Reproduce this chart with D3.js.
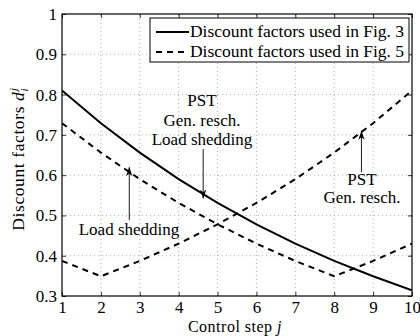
<!DOCTYPE html>
<html><head><meta charset="utf-8">
<script src="https://cdn.jsdelivr.net/npm/d3@7"></script>
<style>body{margin:0;background:#fff}svg{display:block}text{fill:#000}</style>
</head><body>
<script>
const steps = [1,2,3,4,5,6,7,8,9,10];
const fig3 = [0.810,0.729,0.656,0.590,0.531,0.478,0.430,0.387,0.349,0.314];
const fig5LoadShed = [0.729,0.656,0.590,0.531,0.478,0.430,0.387,0.349,0.387,0.430];
const fig5PstGen = [0.387,0.349,0.387,0.430,0.478,0.531,0.590,0.656,0.729,0.810];
const yTicks = [0.3,0.4,0.5,0.6,0.7,0.8,0.9,1];
const xTicks = [1,2,3,4,5,6,7,8,9,10];
const legendLabels = ["Discount factors used in Fig. 3","Discount factors used in Fig. 5"];

const W=420,H=336;
const m={l:62,r:8,t:14,b:40};
const TF="Liberation Serif";
const svg=d3.select("body").append("svg").attr("width",W).attr("height",H);
const x=d3.scaleLinear().domain([1,10]).range([m.l,W-m.r]);
const y=d3.scaleLinear().domain([0.3,1]).range([H-m.b,m.t]);
const fs=17;

// grid
const g=svg.append("g");
g.selectAll(".gx").data(xTicks.slice(1,-1)).join("line")
 .attr("x1",d=>x(d)).attr("x2",d=>x(d)).attr("y1",y(0.3)).attr("y2",y(1))
 .attr("stroke","#999").attr("stroke-width",0.8).attr("stroke-dasharray","1,3");
g.selectAll(".gy").data(yTicks.slice(1,-1)).join("line")
 .attr("y1",d=>y(d)).attr("y2",d=>y(d)).attr("x1",x(1)).attr("x2",x(10))
 .attr("stroke","#999").attr("stroke-width",0.8).attr("stroke-dasharray","1,3");

// axes
const fmt=d=>d===1?"1":d3.format(".1f")(d);
const ax=(sel)=>{sel.select(".domain").remove();sel.attr("font-size",fs).attr("font-family",TF);};
svg.append("g").attr("transform",`translate(0,${y(0.3)})`).call(d3.axisBottom(x).tickValues(xTicks).tickSizeInner(-4).tickSizeOuter(0).tickPadding(5).tickFormat(d3.format("d"))).call(ax);
svg.append("g").attr("transform",`translate(0,${y(1)})`).call(d3.axisTop(x).tickValues(xTicks).tickSizeInner(-4).tickSizeOuter(0).tickFormat("")).call(ax);
svg.append("g").attr("transform",`translate(${x(1)},0)`).call(d3.axisLeft(y).tickValues(yTicks).tickSizeInner(-4).tickSizeOuter(0).tickPadding(5).tickFormat(fmt)).call(ax);
svg.append("g").attr("transform",`translate(${x(10)},0)`).call(d3.axisRight(y).tickValues(yTicks).tickSizeInner(-4).tickSizeOuter(0).tickFormat("")).call(ax);
svg.selectAll(".tick line").attr("stroke","#000").attr("stroke-width",0.8);
svg.append("rect").attr("x",x(1)).attr("y",y(1)).attr("width",x(10)-x(1)).attr("height",y(0.3)-y(1))
 .attr("fill","none").attr("stroke","#000").attr("stroke-width",1.2);

// lines
const line=d3.line().x((d,i)=>x(steps[i])).y(d=>y(d));
svg.append("clipPath").attr("id","clip").append("rect").attr("x",x(1)).attr("y",y(1)).attr("width",x(10)-x(1)).attr("height",y(0.3)-y(1));
const lg=svg.append("g").attr("clip-path","url(#clip)");
lg.append("path").datum(fig3).attr("d",line).attr("fill","none").attr("stroke","#000").attr("stroke-width",2);
[fig5LoadShed,fig5PstGen].forEach(s=>lg.append("path").datum(s).attr("d",line).attr("fill","none").attr("stroke","#000").attr("stroke-width",2).attr("stroke-dasharray","6,5"));

// legend
const L=svg.append("g");
L.append("rect").attr("x",150).attr("y",18).attr("width",259).attr("height",44).attr("fill","#fff").attr("stroke","#000").attr("stroke-width",1);
[0,1].forEach(i=>{
  const yy=32+i*20;
  L.append("line").attr("x1",156).attr("x2",189).attr("y1",yy).attr("y2",yy).attr("stroke","#000").attr("stroke-width",2).attr("stroke-dasharray",i?"6,5":null);
  L.append("text").attr("x",190).attr("y",yy+5).attr("font-family",TF).attr("font-size",17.5)
   .attr("textLength",214).attr("lengthAdjust","spacing").text(legendLabels[i]);
});

// annotations
const defs=svg.append("defs");
defs.append("marker").attr("id","arr").attr("viewBox","0 0 10 10").attr("refX",10).attr("refY",5)
 .attr("markerWidth",9).attr("markerHeight",9).attr("markerUnits","userSpaceOnUse").attr("orient","auto")
 .append("path").attr("d","M0,1.5 L10,5 L0,8.5 L3,5 Z").attr("fill","#000");
function arrow(x1,y1,x2,y2){svg.append("line").attr("x1",x1).attr("y1",y1).attr("x2",x2).attr("y2",y2).attr("stroke","#000").attr("stroke-width",0.9).attr("marker-end","url(#arr)");}
function label(cx,lines,y0,dy){lines.forEach((t,i)=>svg.append("text").attr("x",cx).attr("y",y0+i*dy).attr("text-anchor","middle").attr("font-family",TF).attr("font-size",fs).text(t));}
label(202,["PST","Gen. resch.","Load shedding"],106,19.5);
arrow(x(4.63),149,x(4.63),y(0.542));
label(362,["PST","Gen. resch."],185,18);
arrow(x(8.7),172,x(8.7),y(0.71));
label(129,["Load shedding"],235,0);
arrow(x(2.73),220,x(2.73),y(0.62));

// axis labels
svg.append("text").attr("x",235).attr("y",332).attr("text-anchor","middle").attr("font-family",TF).attr("font-size",16)
 .style("letter-spacing","0.5px")
 .html('Control step <tspan font-style="italic">j</tspan>');
svg.append("text").attr("transform",`translate(24,159) rotate(-90)`).attr("text-anchor","middle").attr("font-family",TF).attr("font-size",17.5)
 .style("letter-spacing","0.6px")
 .html('Discount factors <tspan font-style="italic">d</tspan><tspan font-style="italic" font-size="11px" dy="4">i</tspan><tspan font-style="italic" font-size="11px" dy="-11" dx="-3">j</tspan>');
</script>
</body></html>
